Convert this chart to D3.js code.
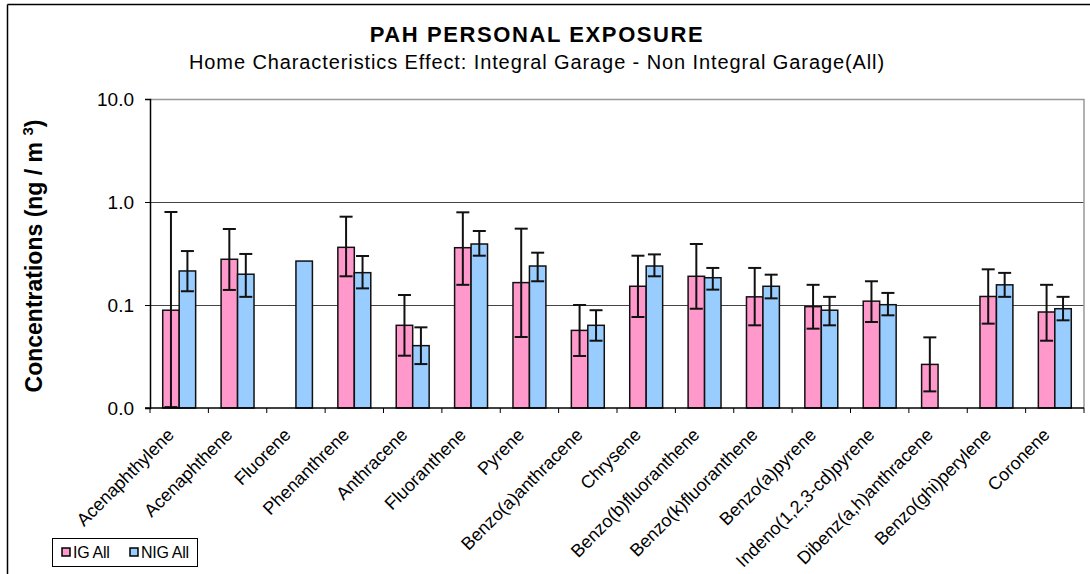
<!DOCTYPE html>
<html>
<head>
<meta charset="utf-8">
<script src="https://cdn.jsdelivr.net/npm/d3@7"></script>
<style>
  body { margin: 0; background: #fff; }
  svg text { font-family: "Liberation Sans", Arial, sans-serif; }
</style>
</head>
<body>
<div id="chart"></div>
<script>
// categories and series (ng/m3)
var categories = ["Acenaphthylene", "Acenaphthene", "Fluorene", "Phenanthrene", "Anthracene",
  "Fluoranthene", "Pyrene", "Benzo(a)anthracene", "Chrysene", "Benzo(b)fluoranthene",
  "Benzo(k)fluoranthene", "Benzo(a)pyrene", "Indeno(1,2,3-cd)pyrene", "Dibenz(a,h)anthracene",
  "Benzo(ghi)perylene", "Coronene"];

var igValues = [0.089, 0.278, null, 0.363, 0.0635, 0.36, 0.165, 0.0567, 0.152, 0.19, 0.12, 0.0964, 0.109, 0.0265, 0.121, 0.0855];
var igLow    = [0.0102, 0.14, null, 0.19, 0.0322, 0.157, 0.0489, 0.032, 0.0765, 0.092, 0.0635, 0.0589, 0.0684, 0.0145, 0.0659, 0.045];
var igHigh   = [0.80, 0.547, null, 0.72, 0.125, 0.794, 0.551, 0.1, 0.301, 0.391, 0.229, 0.157, 0.17, 0.0485, 0.222, 0.157];

var nigValues = [0.214, 0.199, 0.267, 0.206, 0.0403, 0.391, 0.239, 0.0635, 0.239, 0.184, 0.152, 0.089, 0.1007, null, 0.157, 0.092];
var nigLow    = [0.136, 0.12, null, 0.145, 0.0267, 0.301, 0.17, 0.045, 0.19, 0.141, 0.116, 0.0635, 0.0794, null, 0.12, 0.071];
var nigHigh   = [0.334, 0.313, null, 0.299, 0.0607, 0.523, 0.322, 0.089, 0.31, 0.229, 0.197, 0.12, 0.131, null, 0.205, 0.12];

var yTicks = [0.01, 0.1, 1, 10];
var seriesNames = ["IG All", "NIG All"];
var seriesColors = ["#FF99CC", "#99CCFF"];

var W = 1090, H = 574;
var margin = {top: 99, right: 6, bottom: 166, left: 150},
    width = W - margin.left - margin.right,
    height = H - margin.top - margin.bottom;

var root = d3.select("#chart").append("svg")
  .attr("width", W).attr("height", H);

// outer chart border (left + top visible)
root.append("line").attr("x1", 7.5).attr("x2", 7.5).attr("y1", 4.5).attr("y2", H)
  .attr("stroke", "#000").attr("stroke-width", 1.5);
root.append("line").attr("x1", 7.5).attr("x2", W).attr("y1", 4.5).attr("y2", 4.5)
  .attr("stroke", "#000").attr("stroke-width", 1.5);

// titles
root.append("text")
  .attr("x", 537).attr("y", 42)
  .attr("text-anchor", "middle")
  .attr("font-size", "22px").attr("font-weight", "bold")
  .attr("letter-spacing", "1.6px")
  .text("PAH PERSONAL EXPOSURE");
root.append("text")
  .attr("x", 537).attr("y", 69)
  .attr("text-anchor", "middle")
  .attr("font-size", "20px")
  .attr("letter-spacing", "0.9px")
  .text("Home Characteristics Effect: Integral Garage - Non Integral Garage(All)");

var svg = root.append("g")
  .attr("transform", "translate(" + margin.left + "," + margin.top + ")");

var x = d3.scaleBand().domain(categories).range([0, width]);
var bw = x.bandwidth();
var x1 = d3.scaleBand().domain(seriesNames).range([bw * 0.218, bw * 0.782]);

var y = d3.scaleLog().domain([0.01, 10]).range([height, 0]);

// gridlines
svg.selectAll("grid")
  .data(yTicks.slice(1, 3))
  .enter().append("line")
    .attr("x1", 0).attr("x2", width)
    .attr("y1", function(d) { return Math.round(y(d)) + 0.5; })
    .attr("y2", function(d) { return Math.round(y(d)) + 0.5; })
    .attr("stroke", "#444").attr("stroke-width", 1);

// plot frame top + right (grey)
svg.append("path")
  .attr("d", "M0,0.5H" + width + "V" + height)
  .attr("fill", "none").attr("stroke", "#999").attr("stroke-width", 1.5);

// bars
var series = [
  {name: seriesNames[0], v: igValues, lo: igLow, hi: igHigh, color: seriesColors[0]},
  {name: seriesNames[1], v: nigValues, lo: nigLow, hi: nigHigh, color: seriesColors[1]}
];

series.forEach(function(s) {
  var pts = categories.map(function(c, i) {
    return {cat: c, v: s.v[i], lo: s.lo[i], hi: s.hi[i]};
  }).filter(function(d) { return d.v != null; });

  svg.append("g").selectAll("rect")
    .data(pts)
    .enter().append("rect")
      .attr("x", function(d) { return x(d.cat) + x1(s.name); })
      .attr("width", x1.bandwidth())
      .attr("y", function(d) { return y(d.v); })
      .attr("height", function(d) { return height - y(d.v); })
      .attr("fill", s.color)
      .attr("stroke", "#111").attr("stroke-width", 1.5);
});

// error bars on top
series.forEach(function(s) {
  var pts = categories.map(function(c, i) {
    return {cat: c, lo: s.lo[i], hi: s.hi[i]};
  }).filter(function(d) { return d.lo != null; });

  var g = svg.append("g").selectAll("g")
    .data(pts)
    .enter().append("g")
      .attr("transform", function(d) {
        return "translate(" + (x(d.cat) + x1(s.name) + x1.bandwidth() / 2) + ",0)";
      });
  g.append("line")
    .attr("x1", 0).attr("x2", 0)
    .attr("y1", function(d) { return y(d.lo); })
    .attr("y2", function(d) { return y(d.hi); })
    .attr("stroke", "#111").attr("stroke-width", 2);
  g.append("line")
    .attr("x1", -6.5).attr("x2", 6.5)
    .attr("y1", function(d) { return y(d.hi); })
    .attr("y2", function(d) { return y(d.hi); })
    .attr("stroke", "#111").attr("stroke-width", 2);
  g.append("line")
    .attr("x1", -6.5).attr("x2", 6.5)
    .attr("y1", function(d) { return y(d.lo); })
    .attr("y2", function(d) { return y(d.lo); })
    .attr("stroke", "#111").attr("stroke-width", 2);
});

// Y axis
var yAxis = svg.append("g")
  .call(d3.axisLeft(y).tickValues(yTicks).tickFormat(d3.format(".1f")).tickSize(5).tickPadding(11));
yAxis.select(".domain").attr("stroke", "#000").attr("stroke-width", 1.5);
yAxis.selectAll("text").attr("font-size", "19px").attr("fill", "#000")
  .style("font-family", "Liberation Sans, Arial, sans-serif");

// X axis (ticks on category boundaries)
var xAxisG = svg.append("g").attr("transform", "translate(0," + height + ")");
xAxisG.append("line").attr("x1", -5).attr("x2", width).attr("y1", 0).attr("y2", 0)
  .attr("stroke", "#000").attr("stroke-width", 1.5);
xAxisG.selectAll("tickmark")
  .data(d3.range(categories.length + 1))
  .enter().append("line")
    .attr("x1", function(i) { return i * bw; })
    .attr("x2", function(i) { return i * bw; })
    .attr("y1", 0).attr("y2", 5)
    .attr("stroke", "#000");

xAxisG.selectAll("xlab")
  .data(categories)
  .enter().append("text")
    .attr("text-anchor", "end")
    .attr("font-size", "18px")
    .attr("transform", function(d) {
      return "translate(" + (x(d) + bw / 2 - 4) + ",28)rotate(-45)";
    })
    .text(function(d) { return d; });

// Y axis label
var yl = root.append("text")
  .attr("transform", "translate(42,256)rotate(-90)")
  .attr("text-anchor", "middle")
  .attr("font-size", "23px").attr("font-weight", "bold");
yl.append("tspan").text("Concentrations (ng / m ");
yl.append("tspan").attr("font-size", "15px").attr("dy", -9).text("3");
yl.append("tspan").attr("dy", 9).text(")");

// legend
var leg = root.append("g").attr("transform", "translate(52,538)");
leg.append("rect").attr("x", 0.5).attr("y", 0.5).attr("width", 145).attr("height", 28)
  .attr("fill", "#fff").attr("stroke", "#000");
var legX = [10, 78];
seriesNames.forEach(function(n, i) {
  leg.append("rect").attr("x", legX[i]).attr("y", 10).attr("width", 8).attr("height", 8)
    .attr("fill", seriesColors[i]).attr("stroke", "#000").attr("stroke-width", 1.5);
  leg.append("text").attr("x", legX[i] + 11).attr("y", 20)
    .attr("font-size", "16px").attr("letter-spacing", "-0.3px").text(n);
});
</script>
</body>
</html>
